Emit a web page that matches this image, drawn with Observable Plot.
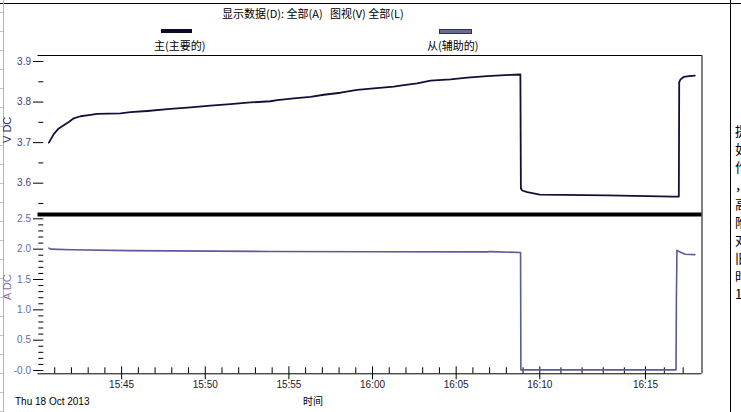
<!DOCTYPE html>
<html><head><meta charset="utf-8">
<script src="https://cdn.jsdelivr.net/npm/d3@7"></script>
<script src="https://cdn.jsdelivr.net/npm/@observablehq/plot@0.6"></script>
<style>
body{margin:0;background:#fff;font-family:"Liberation Sans",Arial,sans-serif;}
#wrap{position:relative;width:741px;height:412px;overflow:hidden;background:#fff;}
.abs{position:absolute;white-space:nowrap;line-height:1;}
.cjk{font-family:"Noto Sans CJK SC","Liberation Sans",sans-serif;}
</style></head><body><div id="wrap">
<!-- window decorations -->
<div class="abs" style="left:0;top:3px;width:741px;height:1px;background:#000"></div>
<div class="abs" style="left:730px;top:0;width:1px;height:412px;background:#000"></div>
<div class="abs" style="left:3px;top:0;width:1px;height:412px;background:#b4b4b4"></div>
<div id="grid"></div>
<!-- header -->
<div class="abs cjk" style="left:222px;top:8px;font-size:11px;color:#000">显示数据(D): 全部(A) &nbsp; 图视(V) 全部(L)</div>
<div class="abs" style="left:161px;top:29px;width:31px;height:4px;background:#0a0a30"></div>
<div class="abs cjk" style="left:154px;top:40px;font-size:11px;color:#000">主(主要的)</div>
<div class="abs" style="left:439px;top:29px;width:31px;height:3px;background:#6a6a9a;border:0.5px solid #303050"></div>
<div class="abs cjk" style="left:427px;top:40px;font-size:11px;color:#000">从(辅助的)</div>
<!-- axis titles -->
<div class="abs" style="left:2px;top:143px;font-size:11px;color:#303068;transform:rotate(-90deg);transform-origin:left top">V DC</div>
<div class="abs" style="left:2px;top:300px;font-size:11px;color:#8a70a8;transform:rotate(-90deg);transform-origin:left top">A DC</div>
<div class="abs" style="left:15px;top:397px;font-size:10px;color:#000">Thu 18 Oct 2013</div>
<div class="abs cjk" style="left:303px;top:396px;font-size:10px;color:#000">时间</div>
<div id="side"></div>
<div id="top"></div>
<div id="bottom"></div>
</div>
<script>
// time in minutes after 15:40 (Thu 18 Oct 2013)
const vTime  = [0.65,0.94,1.24,1.54,1.84,2.14,2.54,3.04,3.54,4.93,5.53,6.53,7.92,9.12,10.31,11.51,12.70,13.90,14.30,15.29,16.29,17.09,18.09,19.08,20.07,21.27,21.87,22.67,23.47,24.66,25.66,26.85,27.65,28.25,28.84,28.87,28.95,29.25,30.00,31.14,33.19,35.09,36.47,36.77,36.79,36.86,37.03,37.30,37.62];
const vValue = [3.700,3.721,3.735,3.743,3.751,3.760,3.765,3.768,3.771,3.772,3.775,3.778,3.783,3.787,3.791,3.795,3.799,3.802,3.805,3.809,3.813,3.818,3.823,3.830,3.834,3.838,3.842,3.846,3.853,3.856,3.860,3.864,3.866,3.867,3.868,3.587,3.582,3.578,3.572,3.571,3.570,3.568,3.567,3.567,3.849,3.856,3.862,3.864,3.865];
const aTime  = [0.65,0.75,2.0,5.4,13.9,20.0,26.9,27.0,28.85,28.87,36.62,36.64,36.67,36.86,37.11,37.62];
const aValue = [2.018,2.000,1.990,1.975,1.962,1.958,1.955,1.960,1.945,0.010,0.010,1.180,1.980,1.950,1.915,1.910];
const xMajorTicks = [5,10,15,20,25,30,35];
const xTickLabels = ["15:45","15:50","15:55","16:00","16:05","16:10","16:15"];
const xMinorTicks = [1,2,3,4,6,7,8,9,11,12,13,14,16,17,18,19,21,22,23,24,26,27,28,29,31,32,33,34,36,37];
const vMajorTicks = [3.6,3.7,3.8,3.9];
const vMinorTicks = [3.55,3.65,3.75,3.85];
const aMajorTicks = [0,0.5,1.0,1.5,2.0,2.5];
const aTickLabels = ["-0.0","0.5","1.0","1.5","2.0","2.5"];
const aMinorTicks = [0.1,0.2,0.3,0.4,0.6,0.7,0.8,0.9,1.1,1.2,1.3,1.4,1.6,1.7,1.8,1.9,2.1,2.2,2.3,2.4];
const sideChars = ["提","如","作","，","高","附","对","旧","时","1"];

const W = 741, H = 412, ML = 37.5, MR = 39.5, PW = W - ML - MR;
// the recorder's time axis is stretched after 16:10
const warp = t => t <= 30 ? t : t <= 35 ? 30 + (t - 30) * 1.264 : 36.32 + (t - 35) * 1.126;
const xOpt = {transform: warp, domain: [0, warp(38)], axis: null};
const st = "position:absolute;left:0;top:0;background:transparent;overflow:visible;font-family:'Liberation Sans',Arial,sans-serif";
const vData = vTime.map((t, i) => ({t, v: vValue[i]}));
const aData = aTime.map((t, i) => ({t, v: aValue[i]}));

const topPlot = Plot.plot({
  width: W, height: H, marginLeft: ML, marginRight: MR, marginTop: 55, marginBottom: 198,
  style: st,
  x: xOpt,
  y: {domain: [3.5228, 3.9148], axis: null},
  marks: [
    Plot.ruleY([3.9148], {stroke: "#000", strokeWidth: 1}),
    Plot.ruleX([38], {stroke: "#000", strokeWidth: 1}),
    Plot.tickY(vMajorTicks, {y: d => d, stroke: "#000", insetLeft: -4.5, insetRight: PW - 5.8}),
    Plot.tickY(vMinorTicks, {y: d => d, stroke: "#000", insetLeft: 0.8, insetRight: PW - 5.8}),
    Plot.text(vMajorTicks, {y: d => d, text: d => d.toFixed(1), frameAnchor: "left", dx: -7, textAnchor: "end", fill: "#404078", fontSize: 10}),
    Plot.line(vData, {x: "t", y: "v", stroke: "#10103a", strokeWidth: 1.8}),
    Plot.ruleY([3.5228], {stroke: "#000", strokeWidth: 4})
  ]
});
document.getElementById("top").appendChild(topPlot);

const botPlot = Plot.plot({
  width: W, height: H, marginLeft: ML, marginRight: MR, marginTop: 214, marginBottom: 38.7,
  style: st,
  x: xOpt,
  y: {domain: [-0.054, 2.571], axis: null},
  marks: [
    Plot.ruleX([38], {stroke: "#000", strokeWidth: 1}),
    Plot.ruleY([-0.054], {stroke: "#000", strokeWidth: 1}),
    Plot.tickY(aMajorTicks, {y: d => d, stroke: "#000", insetLeft: -4.5, insetRight: PW - 5.8}),
    Plot.tickY(aMinorTicks, {y: d => d, stroke: "#000", insetLeft: 0.8, insetRight: PW - 5.8}),
    Plot.text(aMajorTicks, {y: d => d, text: (d, i) => aTickLabels[i], frameAnchor: "left", dx: -7, textAnchor: "end", fill: "#6a6aa8", fontSize: 10}),
    Plot.tickX(xMajorTicks, {x: d => d, stroke: "#000", insetTop: 159.3 - 7, insetBottom: -6}),
    Plot.tickX(xMinorTicks, {x: d => d, stroke: "#000", insetTop: 159.3 - 6, insetBottom: 0}),
    Plot.text(xMajorTicks, {x: d => d, text: (d, i) => xTickLabels[i], frameAnchor: "bottom", dy: 14, fill: "#1a1a2a", fontSize: 10}),
    Plot.line(aData, {x: "t", y: "v", stroke: "#5a5a9c", strokeWidth: 1.6})
  ]
});
document.getElementById("bottom").appendChild(botPlot);

// side clipped characters
const side = document.getElementById("side");
const sideTops = [124,142,160,178,197,215,233,251,269,287];
sideChars.forEach((c, i) => {
  const d = document.createElement("div");
  d.className = "abs cjk";
  d.style.cssText = `left:735px;top:${sideTops[i]}px;font-size:13px;height:14px;color:#000`;
  d.textContent = c;
  side.appendChild(d);
});
// left grey sheet rows
const grid = document.getElementById("grid");
for (let y = 12; y < 412; y += 19) {
  const g = document.createElement("div");
  g.className = "abs";
  g.style.cssText = `left:0;top:${y}px;width:3px;height:1px;background:#c0c0c0`;
  grid.appendChild(g);
}
</script>
</body></html>
